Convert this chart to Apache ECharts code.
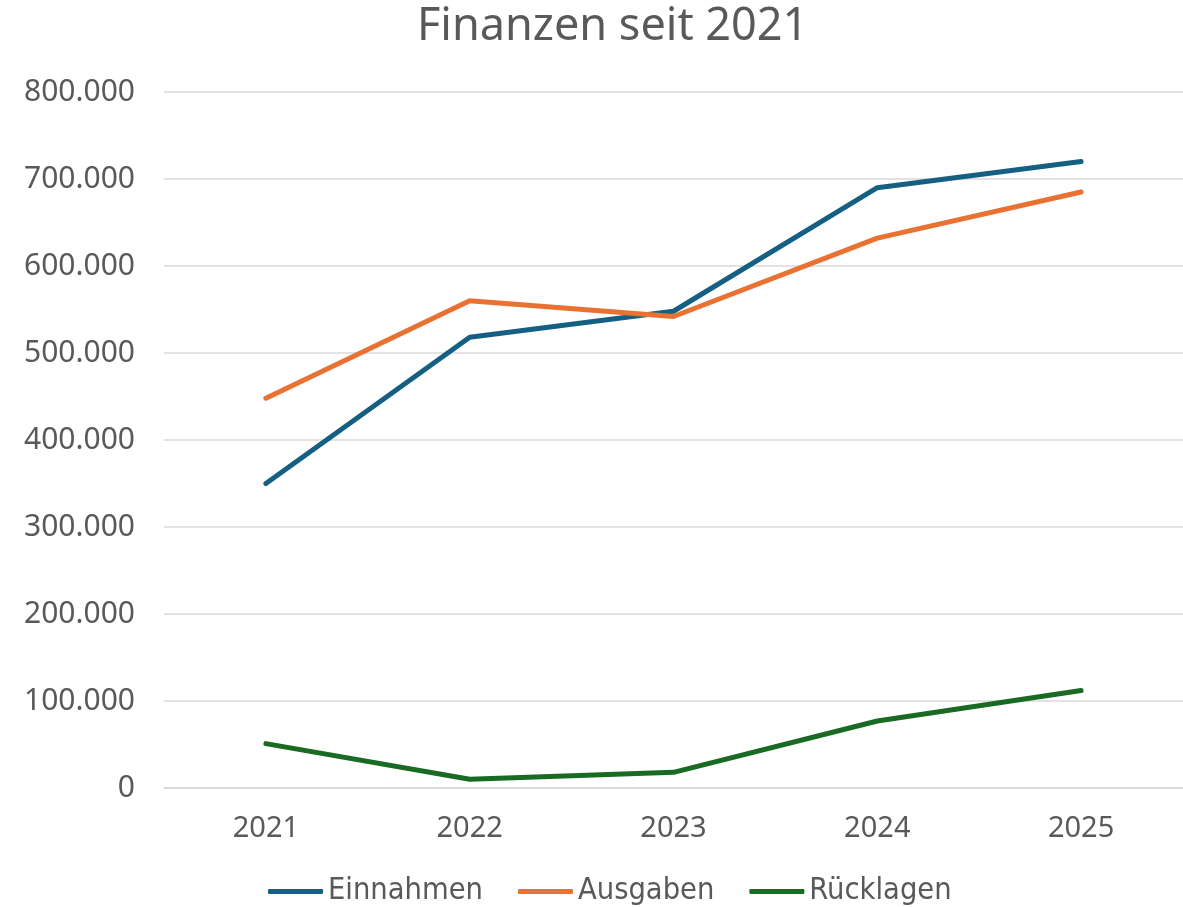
<!DOCTYPE html>
<html>
<head>
<meta charset="utf-8">
<style>
  html, body { margin: 0; padding: 0; background: #fff; }
  #chart { width: 1183px; height: 907px; }
</style>
<script src="https://cdn.jsdelivr.net/npm/echarts@6/dist/echarts.min.js"></script>
</head>
<body>
<div id="chart"></div>
<script>
// Daten
var jahre = ['2021', '2022', '2023', '2024', '2025'];
var einnahmen = [350000, 518000, 548000, 690000, 720000];
var ausgaben = [448000, 560000, 542000, 632000, 685000];
var ruecklagen = [51000, 10000, 18000, 77000, 112000];

var grau = '#595959';

function tausender(v) {
    return String(v).replace(/\B(?=(\d{3})+(?!\d))/g, '.');
}

var chart = echarts.init(document.getElementById('chart'));

chart.setOption({
    animation: false,
    title: {
        text: 'Finanzen seit 2021',
        left: 412,
        top: 0,
        textStyle: {
            fontFamily: 'Noto Sans',
            fontSize: 45,
            fontWeight: 'normal',
            color: grau
        }
    },
    legend: {
        bottom: -5,
        left: 263,
        itemWidth: 55,
        itemHeight: 5,
        itemGap: 35,
        icon: 'roundRect',
        textStyle: {
            fontFamily: '"DejaVu Sans Condensed", "Liberation Sans Narrow", Roboto',
            fontSize: 30.5,
            color: grau,
            padding: [0, 0, 0, 0]
        },
        data: ['Einnahmen', 'Ausgaben', 'Rücklagen']
    },
    grid: {
        left: 164,
        right: 0,
        top: 92,
        bottom: 119
    },
    xAxis: {
        type: 'category',
        data: jahre,
        boundaryGap: true,
        axisLine: { lineStyle: { color: '#d9d9d9', width: 1.5 } },
        axisTick: { show: false },
        axisLabel: {
            fontFamily: 'Noto Sans',
            fontSize: 29,
            color: grau,
            margin: 26
        }
    },
    yAxis: {
        type: 'value',
        min: 0,
        max: 800000,
        interval: 100000,
        axisLine: { show: false },
        axisTick: { show: false },
        splitLine: { lineStyle: { color: '#d9d9d9', width: 1.5 } },
        axisLabel: {
            fontFamily: 'Noto Sans',
            fontSize: 30,
            color: grau,
            margin: 29,
            formatter: tausender
        }
    },
    series: [{
        name: 'Einnahmen',
        type: 'line',
        data: einnahmen,
        symbol: 'none',
        lineStyle: { width: 5, color: '#156082', cap: 'round', join: 'round' },
        itemStyle: { color: '#156082' }
    }, {
        name: 'Ausgaben',
        type: 'line',
        data: ausgaben,
        symbol: 'none',
        lineStyle: { width: 5, color: '#e97132', cap: 'round', join: 'round' },
        itemStyle: { color: '#e97132' }
    }, {
        name: 'Rücklagen',
        type: 'line',
        data: ruecklagen,
        symbol: 'none',
        lineStyle: { width: 5, color: '#196b24', cap: 'round', join: 'round' },
        itemStyle: { color: '#196b24' }
    }]
});
</script>
</body>
</html>
